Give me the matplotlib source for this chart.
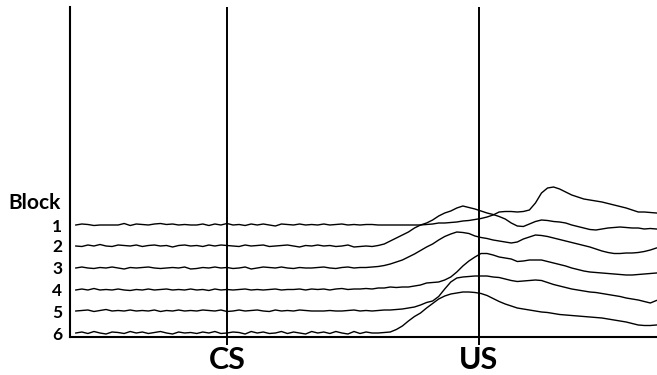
import numpy as np
import matplotlib
matplotlib.use("Agg")
import matplotlib.pyplot as plt
from matplotlib import font_manager

# ---------------- data ----------------
# time axis (ms relative to CS onset); US onset at 500 ms
time_ms = np.arange(-300, 853, 12)
cs_onset = 0
us_onset = 500
block_labels = ["1", "2", "3", "4", "5", "6"]
block_offsets = [112, 91, 69, 47, 26, 4]   # vertical stacking of each block trace

block1 = [0, 1, 0.5, -0.5, 0, 0, 0, 0, 1.5, -0.5,
          1, 0.5, 0, 1, 1.5, 0.5, 1, 0, 0.5, 0,
          0, 1, -0.5, 1, 0, 1.5, 0, 0.5, -0.5, 1,
          0, 1, 0, -1, 1, 0.5, 0, 1, 0, 0.5,
          0, 1, 0, 0.5, 1, 0, 0.5, 0, 0.5, 0.5,
          0, 0, 0, 0, 0, 0, 0, 0, 0.5, 1,
          2, 2, 2.5, 3, 4, 4.5, 5.5, 6.5, 8, 10,
          13, 13.5, 13.5, 13, 13.5, 15, 22, 32, 37, 38,
          36, 33, 30, 28, 26, 25, 24, 23, 21.5, 20,
          18.5, 17, 15, 13, 13, 12.5, 12]
block2 = [0, -0.5, 1, 0, 1.5, 0, -0.5, 1, 0.5, 0,
          1, -0.5, 0.5, 1, 0, 0.5, -1, 0.5, 1, 0,
          0.5, -0.5, 1, 0, 1, 0.5, 0, -0.5, 1, 0,
          0.5, 1, -0.5, 0, 0.5, 1, 0, -1, 0.5, 0,
          1, 0, 0.5, -0.5, 0, 1, -1, -0.5, 0, -0.5,
          0.5, 2, 5, 8, 11, 14, 18, 21, 23, 26,
          30, 33, 35, 38, 40, 38.5, 37, 35, 33, 31.5,
          29.5, 27, 23, 20, 19.5, 22, 24.5, 26, 25.5, 24.5,
          24, 23, 21, 19.5, 18, 16.5, 16, 17, 18, 18.5,
          19, 18.5, 18, 18, 17, 17.5, 17]
block3 = [0, 1, 0, -0.5, 0.5, 0, 1, 0, -1, 0.5,
          0, 0.5, 1, 0, -0.5, 0, 0.5, 0, 1, -1,
          -0.5, 0.5, 0, 1, 0, 0.5, -0.5, 0, 1, -1,
          0, 1, 0.5, 0, 1, 0, -0.5, 0.5, 0, 0,
          0.5, 1, 0, -0.5, 0.5, 1, 0, 0.5, 0.5, 1,
          1.5, 2.5, 4, 6, 8, 11, 14, 17.5, 21, 24,
          28, 31.5, 34, 36, 35.5, 34.5, 32, 30.5, 29.5, 28,
          27, 26, 25, 26, 29, 31, 33, 32.5, 31.5, 30,
          28.5, 27, 25.5, 24, 22.5, 21, 19, 17, 15.5, 14.5,
          14.5, 15, 15, 15.5, 16.5, 18, 20]
block4 = [0, 1, 0, 1.5, 0, 0.5, 0, 1, 0, -0.5,
          0.5, 0, 1, 0, 0.5, 1, 0, 0.5, 0, 1,
          0, 0.5, -0.5, 1, 0, 0.5, 0, 0.5, 1, 0,
          0.5, 0, 0.5, 1, 0, 0.5, 0.5, 1, 0, 1,
          0.5, 1, 0, 1, 1.5, 0.5, 1, 1, 1.5, 1,
          2, 2, 3, 2.5, 3, 3, 4, 5, 7, 7.5,
          8, 10, 13, 18, 24, 29, 33, 36.5, 36.5, 35,
          33, 32, 31, 28.5, 29, 30, 30, 30, 28.5, 27,
          25.5, 24, 22, 20.5, 19, 18, 17.5, 17, 16.5, 16,
          15.5, 15, 15, 15.5, 16, 16.5, 17]
block5 = [0, 0.5, 1, -0.5, 0.5, 1.5, 0, 0.5, 0, 1,
          0, 0.5, 0, 1, -0.5, 0.5, 0, 1, 0, 0.5,
          0, 1, 0.5, 0, 1, -0.5, 0, 1, 0, 0.5,
          1, 0, -0.5, 1, 0, 0.5, 0, 1, 0.5, 0,
          0, 0, 0.5, 0, 0, 0.5, 1, 0, 0.5, 0,
          0.5, 1, 1, 1.5, 2, 3, 4, 6, 8.5, 10,
          14.5, 22, 29, 33, 34, 34.5, 35, 35, 35, 34,
          33.5, 32, 30.5, 29.5, 30, 30.5, 31, 30.5, 28.5, 26.5,
          25, 23.5, 22, 21, 20, 19, 18.5, 17.5, 16.5, 15.5,
          14.5, 13, 12, 11, 9.5, 8, 10.5]
block6 = [0, 1, -0.5, 1.5, 0, -1, 1, 0.5, -0.5, 1.5,
          0, 1, -0.5, 0.5, 1.5, 0, -1, 1, 0, 0.5,
          -0.5, 1, 0, 1.5, -0.5, 0, 1, 0.5, -1, 1.5,
          0, 1, -0.5, 0, 1.5, -0.5, 1, 0, -1, 1.5,
          0, 1, -0.5, 1.5, 0, -1, 1.5, -0.5, 1, 0,
          0, 0.5, 1, 3.5, 7, 12, 16.5, 20, 25, 29.5,
          34, 37, 39, 40, 41, 41, 40.5, 39.5, 37.5, 34.5,
          31.5, 29, 27, 25, 24, 23, 22, 21, 20.5, 19.5,
          18.5, 18, 17.5, 17, 16.5, 16, 15.5, 15, 14, 13,
          12, 11, 9.5, 8, 7.5, 7.5, 8]
blocks = [block1, block2, block3, block4, block5, block6]

# ---------------- font ----------------
avail = {f.name for f in font_manager.fontManager.ttflist}
fam = [f for f in ["Lato", "Liberation Sans", "DejaVu Sans"] if f in avail]
plt.rcParams["font.family"] = fam

# ---------------- figure ----------------
W, H = 657, 375
fig = plt.figure(figsize=(W / 100, H / 100), dpi=100)
ax = fig.add_axes([70 / W, 38 / H, 587 / W, 330 / H])

for vals, off in zip(blocks, block_offsets):
    ax.plot(time_ms, np.array(vals) + off, color="black", lw=1.0)

ax.axvline(cs_onset, color="black", lw=1.4)
ax.axvline(us_onset, color="black", lw=1.4)

ax.set_xlim(-311.5, 853.2)
ax.set_ylim(0, 330)

for s in ["top", "right"]:
    ax.spines[s].set_visible(False)
for s in ["left", "bottom"]:
    ax.spines[s].set_linewidth(1.5)

ax.set_xticks([cs_onset, us_onset])
ax.set_xticklabels(["CS", "US"], fontsize=22, fontweight="bold")
ax.tick_params(axis="x", length=5.5, width=1.4, pad=1.0)

ax.set_yticks(block_offsets)
ax.set_yticklabels(block_labels, fontsize=12.5, fontweight="bold")
ax.tick_params(axis="y", length=0, pad=5.5)

fig.text(61 / W, 1 - 203 / H, "Block", ha="right", va="center",
         fontsize=15, fontweight="bold")

fig.savefig("out.png", dpi=100)
